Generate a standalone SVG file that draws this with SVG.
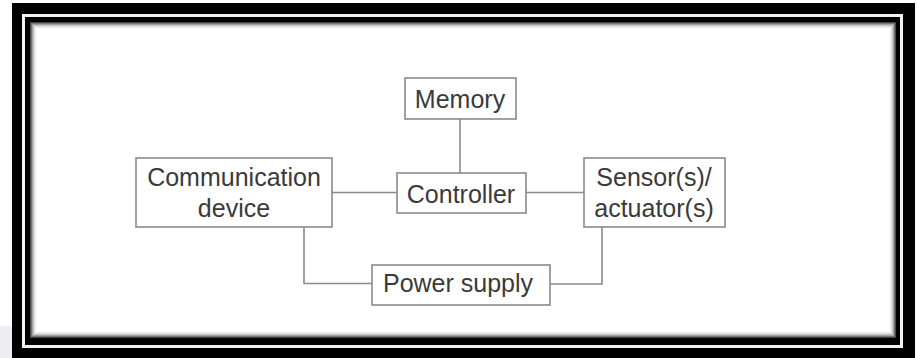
<svg xmlns="http://www.w3.org/2000/svg" width="917" height="358" viewBox="0 0 917 358">
<style>
.box{fill:#ffffff;stroke:#8a8a8a;stroke-width:1.6}
.ln{fill:none;stroke:#8a8a8a;stroke-width:1.6}
.t{font-family:"Liberation Sans",Arial,sans-serif;font-size:25px;fill:#3a3a3a;text-anchor:middle}
.sh{fill:none}
</style>
<rect x="0" y="0" width="917" height="358" fill="#ffffff"/>
<rect x="0" y="326" width="12" height="32" fill="#eceef3"/>
<g id="frame">
<rect x="12" y="3" width="903" height="355" fill="#000000"/>
<rect x="22" y="14" width="881" height="334" fill="#f2f2f2"/>
<rect x="25" y="17" width="875" height="328" fill="#000000"/>
<rect x="30" y="22" width="866" height="316" fill="#ffffff"/>
<rect class="sh" x="30.5" y="22.5" width="865" height="315" stroke="#444"/>
<rect class="sh" x="31.5" y="23.5" width="863" height="313" stroke="#777"/>
<rect class="sh" x="32.5" y="24.5" width="861" height="311" stroke="#a0a0a0"/>
<rect class="sh" x="33.5" y="25.5" width="859" height="309" stroke="#c4c4c4"/>
<rect class="sh" x="34.5" y="26.5" width="857" height="307" stroke="#dedede"/>
<rect class="sh" x="35.5" y="27.5" width="855" height="305" stroke="#efefef"/>
<rect class="sh" x="36.5" y="28.5" width="853" height="303" stroke="#f8f8f8"/>
</g>
<g id="connectors">
<line class="ln" x1="460" y1="119" x2="460" y2="173"/>
<line class="ln" x1="332" y1="192.5" x2="397" y2="192.5"/>
<line class="ln" x1="526" y1="192.5" x2="584" y2="192.5"/>
<polyline class="ln" points="304,227 304,283.5 372,283.5"/>
<polyline class="ln" points="550,284 602,284 602,227"/>
</g>
<g id="memory">
<rect class="box" x="405" y="78" width="111" height="41"/>
<text class="t" x="460" y="108">Memory</text>
</g>
<g id="controller">
<rect class="box" x="397" y="173" width="129" height="40"/>
<text class="t" x="461" y="203">Controller</text>
</g>
<g id="communication">
<rect class="box" x="136" y="158" width="196" height="69"/>
<text class="t" x="234" y="186">Communication</text>
<text class="t" x="234" y="217">device</text>
</g>
<g id="sensor">
<rect class="box" x="584" y="158" width="141" height="69"/>
<text class="t" x="654" y="186">Sensor(s)/</text>
<text class="t" x="654" y="217">actuator(s)</text>
</g>
<g id="power">
<rect class="box" x="372" y="265" width="178" height="40"/>
<text class="t" x="458" y="292">Power supply</text>
</g>
</svg>
